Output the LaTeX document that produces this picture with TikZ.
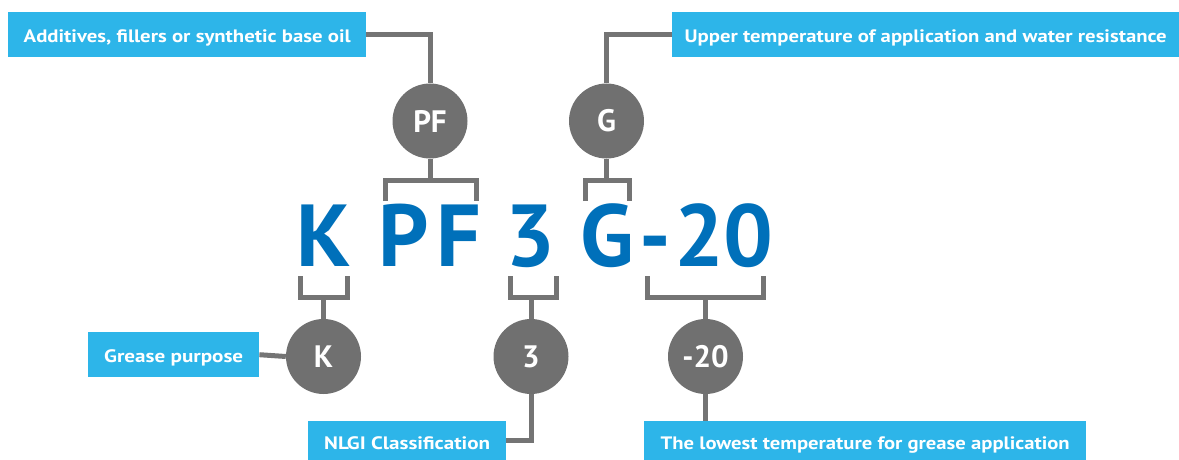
\documentclass[tikz,border=0pt]{standalone}
\usepackage{fontspec}
\usepackage{graphicx}
\setmainfont{PT Sans}
\definecolor{boxblue}{HTML}{2DB5E9}
\definecolor{circgray}{HTML}{707070}
\definecolor{linegray}{HTML}{747474}
\definecolor{bigblue}{HTML}{0070BA}
\newfontfamily\dinbold[Scale=1]{PT Sans Bold}
\newcommand{\fitw}[2]{\resizebox{#1}{\height}{#2}}
\begin{document}
\begin{tikzpicture}[x=1pt,y=-1pt,
  lbl/.style={fill=boxblue,text=white,inner sep=0pt,anchor=north west,
    text height=17pt,text depth=2pt,
    font=\dinbold\fontsize{18pt}{20pt}\selectfont},
  lbllow/.style={lbl,text height=20pt,text depth=2pt},
  circ/.style={circle,fill=circgray,text=white,inner sep=0pt,minimum size=75pt,
    font=\dinbold\fontsize{31pt}{33pt}\selectfont},
  conn/.style={draw=linegray,line width=5pt},
  big/.style={text=bigblue,inner sep=0pt,anchor=base,
    font=\dinbold\fontsize{88pt}{90pt}\selectfont}]
\useasboundingbox (0,0) rectangle (1179,460);

% label boxes
\node[lbl,minimum width=358pt,minimum height=45pt] (tl) at (8,12) {\fitw{327pt}{Additives, fillers or synthetic base oil}};
\node[lbl,minimum width=507pt,minimum height=45pt] (tr) at (672,12) {\fitw{482pt}{Upper temperature of application and water resistance}};
\node[lbl,minimum width=171pt,minimum height=45pt] (gp) at (88,332) {\fitw{139pt}{Grease purpose}};
\node[lbllow,minimum width=198pt,minimum height=39pt] (nl) at (308,421) {\fitw{166pt}{NLGI Classification}};
\node[lbllow,minimum width=442pt,minimum height=39pt] (lo) at (644,421) {\fitw{409pt}{The lowest temperature for grease application}};

% circles
\node[circ] (pf) at (430,121) {PF};
\node[circ] (g) at (606.5,121) {G};
\node[circ] (k) at (323.5,356.5) {K};
\node[circ] (three) at (531,356.5) {3};
\node[circ] (m20) at (705.5,356.5) {-20};

% big code letters
\node[big] (cK) at (324,266) {K};
\node[big] (cP) at (403.5,266) {P};
\node[big] (cF) at (459,266) {F};
\node[big] (c3) at (530.5,266) {3};
\node[big] (cG) at (607.5,266) {G};
\node[big] (cD) at (655.5,266) {-};
\node[big] (c2) at (699.5,266) {2};
\node[big] (c0) at (748,266) {0};

% bracket coordinates
\coordinate (pfL) at (385,201);
\coordinate (pfR) at (476,201);
\coordinate (pfM) at (430,180);
\coordinate (gL) at (585.5,201);
\coordinate (gR) at (629.5,201);
\coordinate (gM) at (606.5,180);
\coordinate (kL) at (300,276);
\coordinate (kR) at (347,276);
\coordinate (kM) at (323.5,297);
\coordinate (tL) at (510,276);
\coordinate (tR) at (556,276);
\coordinate (tM) at (531,297);
\coordinate (mL) at (647.5,276);
\coordinate (mR) at (763,276);
\coordinate (mM) at (705.5,297);

% connectors
\draw[conn] (tl.east) -| (pf.north);
\draw[conn] (tr.west) -| (g.north);
\draw[conn] (pf.south) -- (pfM);
\draw[conn] (pfL) |- (pfM) -| (pfR);
\draw[conn] (g.south) -- (gM);
\draw[conn] (gL) |- (gM) -| (gR);
\draw[conn] (k.north) -- (kM);
\draw[conn] (kL) |- (kM) -| (kR);
\draw[conn] (three.north) -- (tM);
\draw[conn] (tL) |- (tM) -| (tR);
\draw[conn] (m20.north) -- (mM);
\draw[conn] (mL) |- (mM) -| (mR);
\draw[conn] (gp.east) -- (k.west);
\draw[conn] (nl.east) -| (three.south);
\draw[conn] (m20.south) -- (lo.north -| m20.south);
\end{tikzpicture}
\end{document}
